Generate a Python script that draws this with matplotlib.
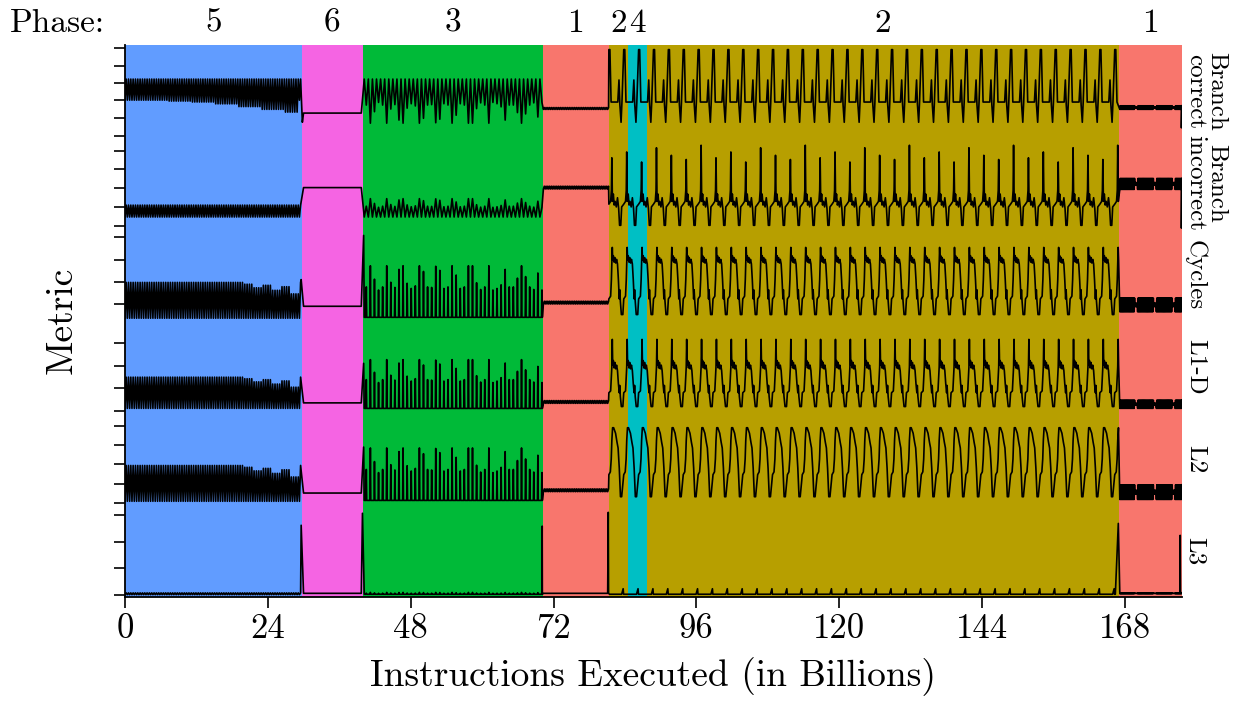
import numpy as np
import matplotlib
matplotlib.use("Agg")
import matplotlib.pyplot as plt
from matplotlib.transforms import blended_transform_factory

plt.rcParams["font.family"] = "cmr10"
plt.rcParams["mathtext.fontset"] = "cm"
plt.rcParams["axes.unicode_minus"] = False

# ---------------- phases ----------------
PHASE_IDS = [5, 6, 3, 1, 2, 4, 2, 1]
PHASE_EDGES = [0.0, 29.7, 40.0, 70.2, 81.3, 84.5, 87.7, 167.0, 177.6]
PHASE_COLORS = {1: "#F8766D", 2: "#B79F00", 3: "#00BA38",
                4: "#00BFC4", 5: "#619CFF", 6: "#F564E3"}

# metrics, bottom band -> top band
METRICS = ["L3", "L2", "L1-D", "Cycles", "Branch\nincorrect", "Branch\ncorrect"]

X_TICKS = [0, 24, 48, 72, 96, 120, 144, 168]
Y_TICKS = [0.02, 0.32, 0.60, 0.89, 1.02, 1.23, 1.45, 1.65, 1.86, 2.02, 2.27, 2.51,
           2.76, 3.19, 3.42, 3.66, 3.91, 4.03, 4.24, 4.45, 4.65, 4.85, 5.01, 5.21,
           5.40, 5.59, 5.77, 5.97]

# ---------------- per band levels (fraction of band height) ----------------
# phase 5: dense oscillation lo/hi
P5_CYCLES = 76
P5_LO = [0.025, 0.04, 0.05, 0.03, 0.13, 0.40]
P5_HI = [0.045, 0.43, 0.39, 0.42, 0.26, 0.63]
# shrinking of the peaks at the end of phase 5 (L2, L1-D, Cycles)
P5_DECAY = [1, 1, 1, 1, 1, 1, 1, 1, 1, 1, 1, 1, 1,
            0.95, 0.85, 0.92, 0.78, 0.88, 0.68, 0.85, 0.62, 0.75, 0.55, 0.52]
# lower edge drift of branch correct in phase 5
P5_BC_LO = [0.40, 0.40, 0.39, 0.38, 0.36, 0.33, 0.30, 0.27]

# phase 6: flat
P6_LEVEL = [0.04, 0.13, 0.11, 0.16, 0.45, 0.26]

# phase 3: spiky (branch rows are a zigzag, the rest narrow spikes)
P3_CYCLES = 44
P3_BASE = [0.03, 0.05, 0.05, 0.04, 0.13, 0.63]
P3_GAIN = [0.02, 0.57, 0.53, 0.56, 0.20, -0.48]
P3_SPIKES = [0.53, 0.59, 1.00, 0.74, 0.53, 0.59, 1.00, 0.68, 0.58, 0.93, 1.00,
             0.66, 0.56, 0.61, 1.00, 0.89, 0.59, 0.58, 0.99, 0.91, 0.56, 0.59,
             1.00, 0.82, 0.56, 0.59, 1.00, 1.00, 0.67, 0.54, 0.59, 1.00, 0.53,
             0.56, 0.63, 0.93, 0.59, 0.59, 0.76, 1.00, 0.79, 0.59, 0.54, 0.86]

# phase 1 (first): flat with small noise
P1_LEVEL = [0.04, 0.16, 0.12, 0.20, 0.45, 0.31]
P1_NOISE = [0.0, 0.015, 0.015, 0.015, 0.015, 0.01]

# phase 1 (last): thick band with gaps
P1B_LO = [0.035, 0.06, 0.05, 0.10, 0.43, 0.30]
P1B_HI = [0.045, 0.22, 0.14, 0.25, 0.55, 0.34]
P1B_PATTERN = [1] * 18 + [0.25] * 3

# phase 2/4: periodic waveform, one period per band
P2_PERIOD = 2.50
P2_SHIFT = [-0.1, 0.5, 0.5, 0.5, 0.5, 0.0]
L3_T = [0.00, 0.03, 0.08, 0.90]
L3_V = [0.09, 0.03, 0.03, 0.03]
L2_T = [0.00, 0.05, 0.12, 0.25, 0.35, 0.42, 0.50, 0.58, 0.66, 0.80, 0.90, 0.96]
L2_V = [0.70, 0.84, 0.84, 0.78, 0.68, 0.62, 0.40, 0.09, 0.09, 0.33, 0.36, 0.50]
L1_T = [0.00, 0.03, 0.06, 0.10, 0.15, 0.20, 0.26, 0.32, 0.38, 0.44, 0.50, 0.53,
        0.57, 0.64, 0.74, 0.80, 0.92, 0.97]
L1_V = [0.50, 0.80, 0.52, 0.57, 0.49, 0.55, 0.48, 0.52, 0.46, 0.32, 0.22, 0.30,
        0.18, 0.07, 0.07, 0.22, 0.24, 0.40]
CY_T = L1_T
CY_V = [0.64, 0.80, 0.66, 0.71, 0.64, 0.69, 0.63, 0.67, 0.62, 0.45, 0.24, 0.34,
        0.22, 0.07, 0.07, 0.24, 0.27, 0.45]
BI_T = [0.00, 0.04, 0.10, 0.16, 0.22, 0.30, 0.38, 0.46, 0.52, 0.60, 0.66, 0.80, 0.92, 0.97]
BI_V = [0.91, 0.30, 0.38, 0.26, 0.30, 0.24, 0.34, 0.22, 0.04, 0.04, 0.24, 0.27, 0.30, 0.42]
BI_PEAKS = [1.0, 0.85, 0.92, 0.80, 0.97, 0.88, 0.83]
BC_T = [0.00, 0.07, 0.15, 0.60, 0.68, 0.74, 0.82, 0.88]
BC_V = [0.95, 0.95, 0.38, 0.38, 0.62, 0.35, 0.16, 0.38]

# single spikes at phase changes
SPIKE_BAND = [0, 0, 0, 0, 0, 0, 3, 3, 2, 1, 5, 5, 4]
SPIKE_X = [29.6, 39.9, 70.1, 81.2, 166.9, 177.3, 29.6, 40.1, 40.1, 40.1, 29.8, 177.5, 177.5]
SPIKE_V = [0.78, 0.91, 0.77, 0.92, 0.80, 0.67, 0.45, 0.93, 0.54, 0.63, 0.16, 0.10, 0.01]


def cycles(x0, x1, period, t, vals, shift=0.0):
    """repeat one period (t, vals) over [x0, x1); vals may hold one row per cycle"""
    t = np.asarray(t, float)
    vals = np.asarray(vals, float)
    k = np.arange(-1, int((x1 - x0) / period) + 2)
    if vals.ndim == 1:
        vals = np.tile(vals, (len(k), 1))
    else:
        vals = np.resize(vals, (len(k), len(t)))
    xs = x0 + shift + (k[:, None] + t[None, :]) * period
    m = (xs >= x0) & (xs < x1)
    return xs[m], vals[m]


def band_trace(b):
    e = PHASE_EDGES
    parts = []

    # phase 5
    n = P5_CYCLES
    if b in (1, 2, 3):
        dec = np.repeat(P5_DECAY, int(np.ceil(n / len(P5_DECAY))))[:n]
        hi = P5_LO[b] + (P5_HI[b] - P5_LO[b]) * dec
    else:
        hi = np.full(n, P5_HI[b])
    if b == 5:
        lo = np.repeat(P5_BC_LO, int(np.ceil(n / len(P5_BC_LO))))[:n]
    else:
        lo = np.full(n, P5_LO[b])
    per = (e[1] - e[0]) / n
    parts.append(cycles(e[0], e[1], per, [0.0, 0.5], np.column_stack([lo, hi])))

    # phase 6
    parts.append((np.array([e[1] + 0.3, e[2] - 0.3]), np.array([P6_LEVEL[b]] * 2)))

    # phase 3
    per = (e[3] - e[2]) / P3_CYCLES
    s = np.array(P3_SPIKES)
    base = np.full_like(s, P3_BASE[b])
    peak = P3_BASE[b] + P3_GAIN[b] * s
    if b >= 4:
        parts.append(cycles(e[2] + 0.2, e[3], per, [0.0, 0.5],
                            np.column_stack([base, peak])))
    else:
        parts.append(cycles(e[2] + 0.2, e[3], per, [0.0, 0.4, 0.5, 0.6],
                            np.column_stack([base, base, peak, base])))

    # phase 1
    lv, nz = P1_LEVEL[b], P1_NOISE[b]
    parts.append(cycles(e[3] + 0.1, e[4], 0.3, [0.0, 0.5], [lv - nz, lv + nz]))

    # phase 2 / 4 / 2
    t = [L3_T, L2_T, L1_T, CY_T, BI_T, BC_T][b]
    v = np.array([L3_V, L2_V, L1_V, CY_V, BI_V, BC_V][b])
    if b == 4:
        rows = np.tile(v, (len(BI_PEAKS), 1))
        rows[:, 0] = np.array(BI_PEAKS) * v[0]
        v = rows
    parts.append(cycles(e[4], e[7], P2_PERIOD, t, v, shift=P2_SHIFT[b]))

    # phase 1 (last)
    amp = np.array(P1B_PATTERN)
    mid = (P1B_LO[b] + P1B_HI[b]) / 2
    half = (P1B_HI[b] - P1B_LO[b]) / 2 * amp
    parts.append(cycles(e[7] + 0.15, e[8], 0.15, [0.0, 0.5],
                        np.column_stack([mid - half, mid + half])))

    xs = np.concatenate([p[0] for p in parts])
    vs = np.concatenate([p[1] for p in parts])
    for sb, sx, sv in zip(SPIKE_BAND, SPIKE_X, SPIKE_V):
        if sb == b:
            xs = np.append(xs, sx)
            vs = np.append(vs, sv)
    order = np.argsort(xs, kind="stable")
    return xs[order], vs[order]


fig = plt.figure(figsize=(12.45, 7.02), dpi=100)
ax = fig.add_axes([125 / 1245, 105 / 702, 1057 / 1245, 552 / 702])

for p, x0, x1 in zip(PHASE_IDS, PHASE_EDGES[:-1], PHASE_EDGES[1:]):
    ax.axvspan(x0, x1, color=PHASE_COLORS[p], lw=0, zorder=0)

for b in range(len(METRICS)):
    xs, vs = band_trace(b)
    ax.plot(xs, b + vs, color="black", lw=1.2, zorder=2)

ax.set_xlim(PHASE_EDGES[0], PHASE_EDGES[-1])
ax.set_ylim(0, len(METRICS))
ax.set_xticks(X_TICKS)
ax.set_yticks(Y_TICKS)
ax.set_yticklabels([])
ax.tick_params(axis="both", direction="out", length=8, width=1.2, labelsize=25)
for side in ("top", "right"):
    ax.spines[side].set_visible(False)
for side in ("left", "bottom"):
    ax.spines[side].set_linewidth(1.3)
    ax.spines[side].set_zorder(3)

ax.set_xlabel("Instructions Executed (in Billions)", fontsize=27, labelpad=9)
fig.text(62 / 1245, 1 - 320 / 702, "Metric", rotation=90, ha="center", va="center", fontsize=27)

# phase numbers on top
trans = blended_transform_factory(ax.transData, fig.transFigure)
for p, x0, x1 in zip(PHASE_IDS, PHASE_EDGES[:-1], PHASE_EDGES[1:]):
    ax.text((x0 + x1) / 2, 1 - 23 / 702, str(p), transform=trans,
            ha="center", va="center", fontsize=24)
fig.text(10 / 1245, 1 - 23 / 702, "Phase:", ha="left", va="center", fontsize=24)

# metric names on the right
for b, name in enumerate(METRICS):
    ax.text(1.002, (b + 0.5) / len(METRICS), name, transform=ax.transAxes,
            rotation=-90, ha="left", va="center", fontsize=18,
            linespacing=0.95, multialignment="center")

fig.savefig("out.png", dpi=100)
